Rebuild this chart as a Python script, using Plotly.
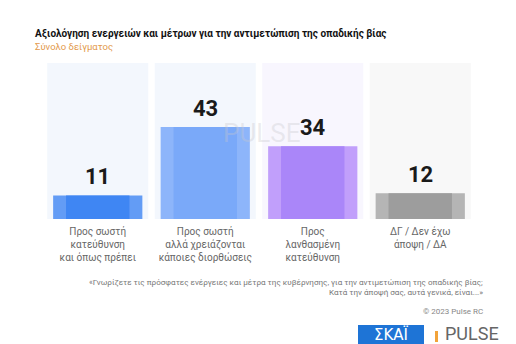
import plotly.graph_objects as go

# Survey answers and shares (%)
categories = [
    "Προς σωστή<br>κατεύθυνση<br>και όπως πρέπει",
    "Προς σωστή<br>αλλά χρειάζονται<br>κάποιες διορθώσεις",
    "Προς<br>λανθασμένη<br>κατεύθυνση",
    "ΔΓ / Δεν έχω<br>άποψη / ΔΑ",
]
values = [11, 43, 34, 12]

panel_colors = ["#f3f7fd", "#f3f7fd", "#f8f6fe", "#f8f8f8"]
outer_colors = ["#639cf5", "#8db5fa", "#c19ffb", "#b5b5b5"]
inner_colors = ["#3f86f3", "#7aa9f9", "#aa86f9", "#9d9d9d"]

W, H = 516, 344
L, R, T, B = 44, 42, 63, 125
PW, PH = W - L - R, H - T - B


def px(x):
    return (x - L) / PW


def py(y):
    return (H - B - y) / PH


xs = list(range(len(values)))

fig = go.Figure()
fig.add_trace(go.Bar(x=xs, y=values, width=0.83, marker=dict(color=outer_colors, line_width=0),
                     hoverinfo="skip"))
fig.add_trace(go.Bar(x=xs, y=values, width=0.59, marker=dict(color=inner_colors, line_width=0),
                     hoverinfo="skip"))

# Background panels behind each column
for i, c in enumerate(panel_colors):
    fig.add_shape(type="rect", xref="x", yref="paper", x0=i - 0.47, x1=i + 0.47, y0=0, y1=1,
                  fillcolor=c, line_width=0, layer="below")

# Faint watermark (drawn first so value labels sit on top)
fig.add_annotation(xref="paper", yref="paper", x=px(261), y=py(133), text="PULSE", showarrow=False,
                   font=dict(family="Roboto", size=26, color="rgba(200,200,205,0.35)"))

# Value labels above bars
for i, v in enumerate(values):
    fig.add_annotation(x=i, y=v, xref="x", yref="y", text=f"<b>{v}</b>", showarrow=False,
                       yanchor="bottom", yshift=4,
                       font=dict(family="Roboto", size=22, color="#1a1a1a"))

notes = [
    dict(x=px(33), y=py(34), text="<b>Αξιολόγηση ενεργειών και μέτρων για την αντιμετώπιση της οπαδικής βίας</b>",
         xanchor="left", font=dict(family="Roboto", size=10, color="#111111")),
    dict(x=px(33), y=py(46.5), text="Σύνολο δείγματος", xanchor="left",
         font=dict(family="Roboto", size=9.5, color="#e39a4c")),
    dict(x=px(485), y=py(282), text="«Γνωρίζετε τις πρόσφατες ενέργειες και μέτρα της κυβέρνησης, για την αντιμετώπιση της οπαδικής βίας;",
         xanchor="right", font=dict(family="Roboto", size=8.1, color="#777777")),
    dict(x=px(485), y=py(292), text="Κατά την άποψή σας, αυτά γενικά, είναι...»",
         xanchor="right", font=dict(family="Roboto", size=8.1, color="#777777")),
    dict(x=px(485), y=py(311), text="© 2023 Pulse RC", xanchor="right",
         font=dict(family="Roboto", size=8, color="#888888")),
    dict(x=px(391), y=py(334), text="ΣΚΑΪ", xanchor="center",
         font=dict(family="DejaVu Sans", size=15, color="#ffffff")),
    dict(x=px(472), y=py(333), text="PULSE", xanchor="center",
         font=dict(family="Roboto", size=18, color="#666666")),
]
for n in notes:
    fig.add_annotation(xref="paper", yref="paper", showarrow=False, yanchor="middle", **n)

# Logo box
fig.add_shape(type="rect", xref="paper", yref="paper", x0=px(358), x1=px(424), y0=py(344), y1=py(325),
              fillcolor="#1e74d6", line_width=0)
fig.add_shape(type="rect", xref="paper", yref="paper", x0=px(435), x1=px(438), y0=py(342), y1=py(331),
              fillcolor="#f2a33a", line_width=0)

fig.update_layout(
    width=W, height=H,
    margin=dict(l=L, r=R, t=T, b=B),
    paper_bgcolor="#ffffff", plot_bgcolor="#ffffff",
    barmode="overlay", showlegend=False,
    xaxis=dict(range=[-0.5, 3.5], tickmode="array", tickvals=xs, ticktext=categories,
               showgrid=False, zeroline=False, showline=False, ticks="",
               tickfont=dict(family="Roboto", size=10, color="#666666"), ticklabelstandoff=5),
    yaxis=dict(range=[0, 73], visible=False, fixedrange=True),
)

fig.write_html("out.html")
